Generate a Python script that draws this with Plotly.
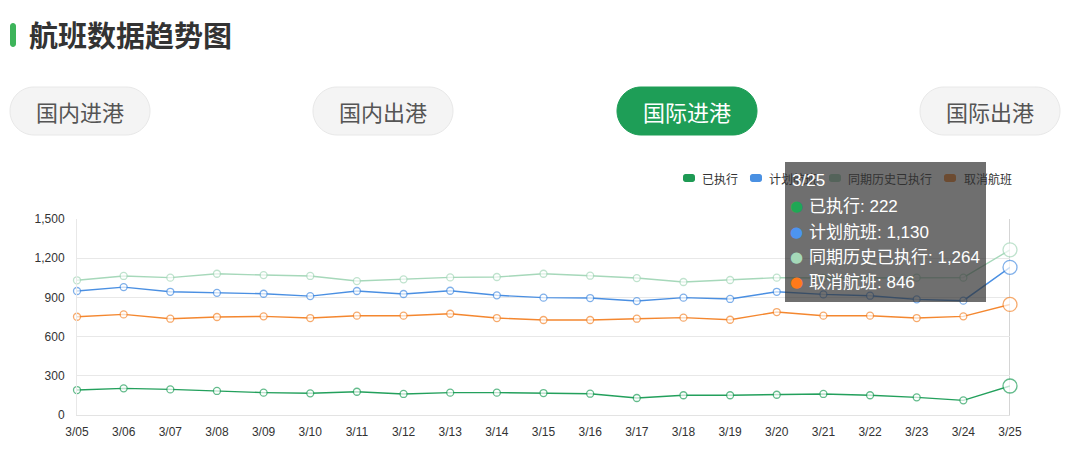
import plotly.graph_objects as go

# ---------------- data ----------------
dates = ["3/05", "3/06", "3/07", "3/08", "3/09", "3/10", "3/11", "3/12", "3/13", "3/14",
         "3/15", "3/16", "3/17", "3/18", "3/19", "3/20", "3/21", "3/22", "3/23", "3/24", "3/25"]
executed = [191, 204, 196, 184, 171, 166, 178, 161, 171, 171, 168, 163, 130, 151, 151, 155, 161, 151, 135, 112, 222]
planned = [949, 979, 943, 935, 928, 910, 949, 926, 951, 916, 898, 895, 872, 898, 888, 943, 923, 913, 885, 875, 1130]
history = [1031, 1064, 1051, 1081, 1071, 1064, 1025, 1038, 1053, 1056, 1081, 1066, 1048, 1018, 1033, 1051, 1048, 1050, 1051, 1051, 1264]
cancelled = [752, 770, 737, 750, 755, 742, 760, 760, 775, 742, 727, 727, 737, 745, 729, 788, 760, 760, 742, 755, 846]

series_names = ["已执行", "计划航班", "同期历史已执行", "取消航班"]
series_values = [executed, planned, history, cancelled]
series_colors = ["#23a05c", "#4a8fe2", "#a6d8ba", "#f4872f"]
dot_colors = ["#1fa855", "#4d94f0", "#a5d9b9", "#ff7a1a"]
legend_swatch = ["#1e9a54", "#4a90e2", "#a6d8ba", "#f4872f"]
tabs = ["国内进港", "国内出港", "国际进港", "国际出港"]
active_tab = 2
title_text = "航班数据趋势图"
hover_index = 20

# page body has an 8px margin; the figure is placed at (8, 8)
OFF = 8
W, H = 1080 - 2 * OFF, 469 - 2 * OFF
# plot area in page pixels
PL, PR, PT, PB = 77, 1010, 219, 415
CJK = "Noto Sans CJK SC"
MIX = "Liberation Sans, Noto Sans CJK SC"


def px(x):
    return (x - PL) / (PR - PL)


def py(y):
    return (PB - y) / (PB - PT)


def rrect(x0, y0, x1, y1, r):
    k = 0.5523 * r

    def P(x, y):
        return f"{px(x):.6f},{py(y):.6f}"
    d = f"M {P(x0 + r, y0)} L {P(x1 - r, y0)} "
    d += f"C {P(x1 - r + k, y0)} {P(x1, y0 + r - k)} {P(x1, y0 + r)} "
    d += f"L {P(x1, y1 - r)} "
    d += f"C {P(x1, y1 - r + k)} {P(x1 - r + k, y1)} {P(x1 - r, y1)} "
    d += f"L {P(x0 + r, y1)} "
    d += f"C {P(x0 + r - k, y1)} {P(x0, y1 - r + k)} {P(x0, y1 - r)} "
    d += f"L {P(x0, y0 + r)} "
    d += f"C {P(x0, y0 + r - k)} {P(x0 + r - k, y0)} {P(x0 + r, y0)} Z"
    return d


fig = go.Figure()
n = len(dates)
for name, vals, col in zip(series_names, series_values, series_colors):
    sizes = [7] * n
    sizes[hover_index] = 14
    fig.add_trace(go.Scatter(
        x=dates, y=vals, name=name, mode="lines+markers",
        line=dict(color=col, width=1.4),
        marker=dict(size=sizes, color="white", line=dict(color=col, width=1.3)),
        cliponaxis=False, hoverinfo="skip", showlegend=False))

shapes = []
annotations = []

# hover vertical line
shapes.append(dict(type="line", xref="x", yref="paper", x0=dates[hover_index], x1=dates[hover_index],
                   y0=0, y1=1, line=dict(color="#aaaaaa", width=1), layer="between"))

# title bar + title
shapes.append(dict(type="path", xref="paper", yref="paper", path=rrect(10, 23, 16, 47, 3),
                   fillcolor="#3db45a", line=dict(width=0)))
annotations.append(dict(xref="paper", yref="paper", x=px(27), y=py(34), xanchor="left", yanchor="middle",
                        text=f"<b>{title_text}</b>", showarrow=False,
                        font=dict(family=CJK, size=29, color="#333333")))

# tab pills
tab_x = [10, 313, 617, 920]
for i, (t, x0) in enumerate(zip(tabs, tab_x)):
    active = i == active_tab
    shapes.append(dict(type="path", xref="paper", yref="paper",
                       path=rrect(x0, 87, x0 + 140, 135, 24),
                       fillcolor="#1e9e57" if active else "#f4f4f4",
                       line=dict(color="#1e9e57" if active else "#e8e8e8", width=1)))
    annotations.append(dict(xref="paper", yref="paper", x=px(x0 + 70), y=py(111),
                            xanchor="center", yanchor="middle", text=t, showarrow=False,
                            font=dict(family=CJK, size=22, color="white" if active else "#555555")))

# legend
sw_x = [683, 750, 829, 944]
txt_x = [700, 767, 846, 962]
for name, sx, tx, c in zip(series_names, sw_x, txt_x, legend_swatch):
    shapes.append(dict(type="path", xref="paper", yref="paper", path=rrect(sx, 174, sx + 12, 182, 2.5),
                       fillcolor=c, line=dict(width=0), layer="above"))
    annotations.append(dict(xref="paper", yref="paper", x=px(tx), y=py(178), xanchor="left",
                            yanchor="middle", text=name, showarrow=False,
                            font=dict(family=CJK, size=12, color="#333333")))

# tooltip box (annotation so it covers legend)
annotations.append(dict(xref="paper", yref="paper", x=px(785), y=py(162), xanchor="left", yanchor="top",
                        text="", showarrow=False, width=201, height=140,
                        bgcolor="rgba(50,50,50,0.7)", borderpad=0, borderwidth=0))
annotations.append(dict(xref="paper", yref="paper", x=px(790), y=py(181), xanchor="left", yanchor="middle",
                        text=dates[hover_index], showarrow=False,
                        font=dict(family=MIX, size=17, color="white")))
row_y = [206, 232, 257, 282]
for name, vals, dc, ry in zip(series_names, series_values, dot_colors, row_y):
    annotations.append(dict(xref="paper", yref="paper", x=px(796), y=py(ry), xanchor="center",
                            yanchor="middle", text="●", showarrow=False,
                            font=dict(family="DejaVu Sans", size=15, color=dc)))
    annotations.append(dict(xref="paper", yref="paper", x=px(807), y=py(ry), xanchor="left",
                            yanchor="middle", text=f"{name}: {vals[hover_index]:,}", showarrow=False,
                            font=dict(family=MIX, size=17, color="white")))

fig.update_layout(
    width=W, height=H,
    margin=dict(l=PL - OFF, r=W - (PR - OFF), t=PT - OFF, b=H - (PB - OFF)),
    paper_bgcolor="white", plot_bgcolor="white", showlegend=False,
    shapes=shapes, annotations=annotations,
    xaxis=dict(type="category", range=[0, n - 1], showgrid=False, showline=True, linecolor="#e3e3e3",
               ticks="outside", ticklen=6, tickcolor="rgba(0,0,0,0)",
               tickfont=dict(family=MIX, size=12, color="#333333"), zeroline=False),
    yaxis=dict(range=[0, 1500], dtick=300, tickformat=",", showgrid=True, gridcolor="#e8e8e8",
               showline=True, linecolor="#e8e8e8", zeroline=False,
               ticks="outside", ticklen=9, tickcolor="rgba(0,0,0,0)",
               tickfont=dict(family=MIX, size=12, color="#333333")),
)

fig.write_html("out.html")
